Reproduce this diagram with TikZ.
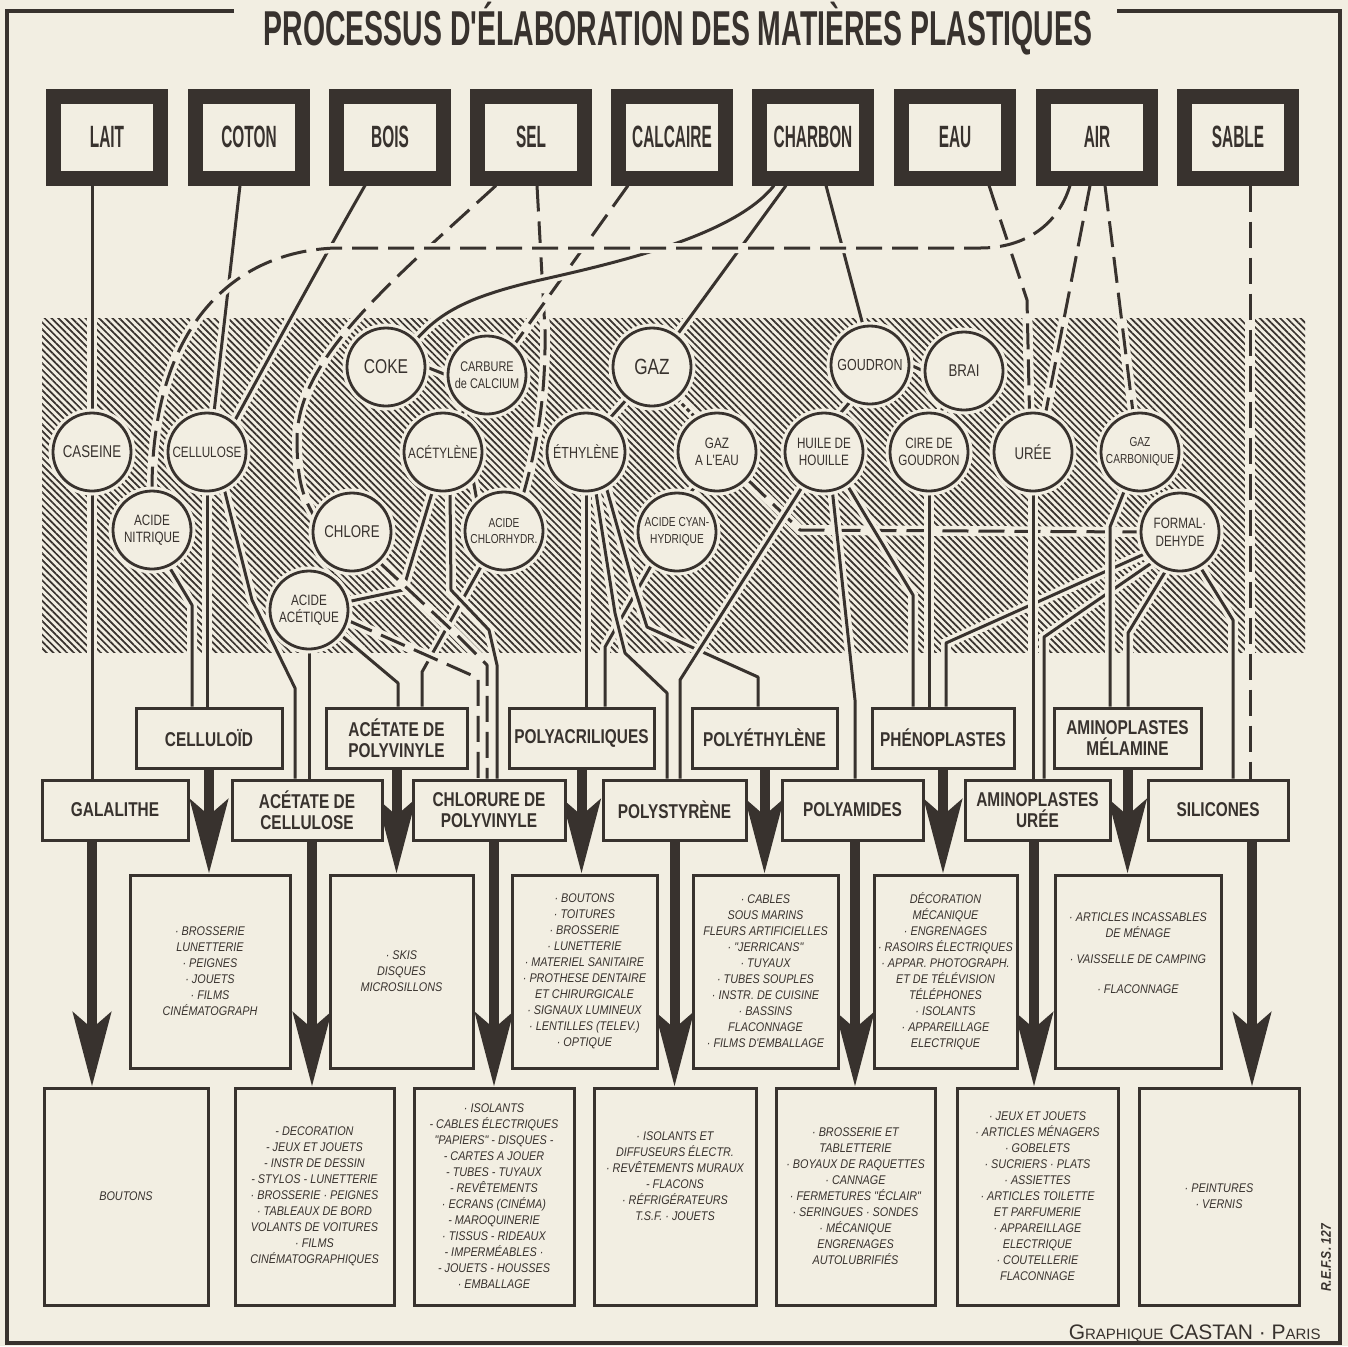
\documentclass[tikz,border=0pt]{standalone}
\usepackage{fontspec}
\usetikzlibrary{arrows.meta,patterns.meta}
\newfontfamily\titlefam[FakeStretch=0.58]{Liberation Sans}
\newfontfamily\srcfam[FakeStretch=0.5]{Liberation Sans}
\newfontfamily\circfam[FakeStretch=0.78]{Liberation Sans}
\newfontfamily\prodfam[FakeStretch=0.77]{Liberation Sans}
\newfontfamily\appfam[FakeStretch=0.86]{Liberation Sans}
\newfontfamily\creditfam{Liberation Sans}
\newcommand\circsz[2]{\circfam\fontsize{#1}{#2}\selectfont}
\definecolor{paper}{RGB}{242,238,226}
\definecolor{ink}{RGB}{56,50,46}
\pgfdeclarelayer{bg}
\pgfdeclarelayer{lines}
\pgfsetlayers{bg,lines,main}
\tikzset{
  src/.style={draw=ink, line width=7.5pt, fill=paper, minimum width=53.5pt, minimum height=41pt, inner sep=0pt, outer sep=3.75pt, text=ink, font={\srcfam\bfseries\fontsize{15.4}{16}\selectfont}},
  circ/.style={circle, draw=ink, line width=1.4pt, fill=paper, minimum size=39pt, inner sep=0pt, align=center, text=ink, font={\circsz{7.5}{8.8}}, preaction={draw=paper, line width=4.5pt}},
  prod/.style={rectangle, draw=ink, line width=1.5pt, fill=paper, minimum height=30pt, inner sep=0pt, align=center, text=ink, font={\prodfam\bfseries\fontsize{10}{10.5}\selectfont}},
  app/.style={rectangle, draw=ink, line width=1.5pt, fill=paper, inner sep=0pt, align=center, text=ink, font={\appfam\itshape\fontsize{6.3}{8}\selectfont}},
  mid/.style={app, minimum height=96.5pt},
  low/.style={app, minimum height=108.5pt},
  conn/.style={draw=ink, line width=1.5pt, line join=round, preaction={draw=paper, line width=5pt, solid}},
  dconn/.style={conn, dash pattern=on 13pt off 5pt},
  dotconn/.style={conn, dash pattern=on 2pt off 1.5pt},
  bigarrow/.style={draw=ink, line width=5pt, -{Stealth[length=37pt, width=19pt, inset=8pt]}},
  frame/.style={draw=ink, line width=2pt},
}
\begin{document}
\begin{tikzpicture}[x=0.5pt,y=-0.5pt]
\useasboundingbox (0,0) rectangle (1348,1346);
\begin{pgfonlayer}{bg}
\fill[paper] (0,0) rectangle (1348,1346);
\fill[pattern={Lines[angle=-45,distance=2.4pt,line width=0.85pt]}, pattern color=ink] (42,318) rectangle (1305,652);
\end{pgfonlayer}

% frame and title
\draw[frame] (234,11) -- (7,11) -- (7,1343) -- (1340,1343) -- (1340,11) -- (1117,11);
\node[anchor=base, inner sep=0pt, text=ink, font={\titlefam\bfseries\fontsize{24.5}{26}\selectfont}] (title) at (678,45) {PROCESSUS D'ÉLABORATION DES MATIÈRES PLASTIQUES};

% sources
\node[src] (lait) at (107,137) {LAIT};
\node[src] (coton) at (249,137) {COTON};
\node[src] (bois) at (390,137) {BOIS};
\node[src] (sel) at (531,137) {SEL};
\node[src] (calc) at (672,137) {CALCAIRE};
\node[src] (charb) at (813,137) {CHARBON};
\node[src] (eau) at (955,137) {EAU};
\node[src] (air) at (1097,137) {AIR};
\node[src] (sable) at (1238,137) {SABLE};

\coordinate (laitout) at ([xshift=-7.5pt]lait.south);
\coordinate (cotonout) at ([xshift=-4.5pt]coton.south);
\coordinate (boisout) at ([xshift=-12.5pt]bois.south);
\coordinate (selout1) at ([xshift=-17.5pt]sel.south);
\coordinate (selout2) at ([xshift=3pt]sel.south);
\coordinate (calcout) at ([xshift=-22pt]calc.south);
\coordinate (charbout1) at ([xshift=-19.5pt]charb.south);
\coordinate (charbout2) at ([xshift=-13.5pt]charb.south);
\coordinate (charbout3) at ([xshift=6.5pt]charb.south);
\coordinate (eauout) at ([xshift=17pt]eau.south);
\coordinate (airout1) at ([xshift=-13.5pt]air.south);
\coordinate (airout2) at ([xshift=-3.5pt]air.south);
\coordinate (airout3) at ([xshift=4pt]air.south);
\coordinate (sableout) at ([xshift=6pt]sable.south);

% intermediates
\node[circ, font={\circsz{8.5}{9}}] (casein) at (92,452) {CASEINE};
\node[circ] (cellulose) at (207,452) {CELLULOSE};
\node[circ] (nitrique) at (152,530) {ACIDE\\NITRIQUE};
\node[circ, font={\circsz{10}{11}}] (coke) at (386,367) {COKE};
\node[circ, font={\circsz{7}{8.4}}] (carbure) at (487,375) {CARBURE\\de CALCIUM};
\node[circ] (acetylene) at (443,452) {ACÉTYLÈNE};
\node[circ, font={\circsz{8.5}{9}}] (chlore) at (352,532) {CHLORE};
\node[circ, font={\circsz{6.5}{8.4}}] (chlorhydr) at (504,531) {ACIDE\\CHLORHYDR.};
\node[circ] (acetique) at (309,610) {ACIDE\\ACÉTIQUE};
\node[circ, font={\circsz{11}{12}}] (gaz) at (652,367) {GAZ};
\node[circ, font={\circsz{8}{9}}] (ethylene) at (586,452) {ÉTHYLÈNE};
\node[circ] (gazeau) at (717,452) {GAZ\\A L'EAU};
\node[circ, font={\circsz{6.5}{8.4}}] (cyan) at (677,532) {ACIDE CYAN-\\HYDRIQUE};
\node[circ, font={\circsz{8}{9}}] (goudron) at (870,365) {GOUDRON};
\node[circ, font={\circsz{8.5}{9}}] (brai) at (964,371) {BRAI};
\node[circ] (huile) at (824,452) {HUILE DE\\HOUILLE};
\node[circ] (cire) at (929,452) {CIRE DE\\GOUDRON};
\node[circ, font={\circsz{8.5}{9}}] (uree) at (1033,452) {URÉE};
\node[circ, font={\circsz{6.5}{8.4}}] (gazcarb) at (1140,452) {GAZ\\CARBONIQUE};
\node[circ] (formal) at (1180,532) {FORMAL·\\DEHYDE};

% products row A
\node[prod, minimum width=73pt] (celluloid) at (209,738) {CELLULOÏD};
\node[prod, minimum width=70.5pt] (pvac) at (396.5,738) {ACÉTATE DE\\POLYVINYLE};
\node[prod, minimum width=72.5pt] (polyacr) at (581.5,738) {POLYACRILIQUES};
\node[prod, minimum width=72.5pt] (polyeth) at (764.5,738) {POLYÉTHYLÈNE};
\node[prod, minimum width=71pt] (pheno) at (943,738) {PHÉNOPLASTES};
\node[prod, minimum width=73.5pt] (melamine) at (1127.5,738) {AMINOPLASTES\\MÉLAMINE};
% products row B
\node[prod, minimum width=73pt] (galalithe) at (115,810) {GALALITHE};
\node[prod, minimum width=75pt] (acecell) at (307,810) {ACÉTATE DE\\CELLULOSE};
\node[prod, minimum width=76pt] (pvc) at (489,810) {CHLORURE DE\\POLYVINYLE};
\node[prod, minimum width=71.5pt] (polystyrene) at (674.5,810) {POLYSTYRÈNE};
\node[prod, minimum width=70.5pt] (polyamides) at (852.5,810) {POLYAMIDES};
\node[prod, minimum width=72.5pt] (amuree) at (1037.5,810) {AMINOPLASTES\\URÉE};
\node[prod, minimum width=70pt] (silicones) at (1218,810) {SILICONES};

% uses, middle row
\node[mid, minimum width=80pt] (m1) at (210,971.5) {· BROSSERIE\\LUNETTERIE\\· PEIGNES\\· JOUETS\\· FILMS\\CINÉMATOGRAPH};
\node[mid, minimum width=71.5pt] (m2) at (401.5,971.5) {· SKIS\\DISQUES\\MICROSILLONS};
\node[mid, minimum width=72.5pt] (m3) at (584.5,971.5) {· BOUTONS\\· TOITURES\\· BROSSERIE\\· LUNETTERIE\\· MATERIEL SANITAIRE\\· PROTHESE DENTAIRE\\ET CHIRURGICALE\\· SIGNAUX LUMINEUX\\· LENTILLES (TELEV.)\\· OPTIQUE};
\node[mid, minimum width=72.5pt] (m4) at (765.5,971.5) {· CABLES\\SOUS MARINS\\FLEURS ARTIFICIELLES\\· "JERRICANS"\\· TUYAUX\\· TUBES SOUPLES\\· INSTR. DE CUISINE\\· BASSINS\\FLACONNAGE\\· FILMS D'EMBALLAGE};
\node[mid, minimum width=71.5pt] (m5) at (945.5,971.5) {DÉCORATION\\MÉCANIQUE\\· ENGRENAGES\\· RASOIRS ÉLECTRIQUES\\· APPAR. PHOTOGRAPH.\\ET DE TÉLÉVISION\\TÉLÉPHONES\\· ISOLANTS\\· APPAREILLAGE\\ELECTRIQUE};
\node[mid, minimum width=83pt] (m6) at (1138,971.5) {· ARTICLES INCASSABLES\\DE MÉNAGE\\[5pt]· VAISSELLE DE CAMPING\\[7pt]· FLACONNAGE\\[10pt]};
% uses, bottom row
\node[low, minimum width=82pt] (b1) at (126,1196.5) {BOUTONS};
\node[low, minimum width=79.5pt] (b2) at (314.5,1196.5) {- DECORATION\\- JEUX ET JOUETS\\- INSTR DE DESSIN\\- STYLOS - LUNETTERIE\\· BROSSERIE · PEIGNES\\· TABLEAUX DE BORD\\VOLANTS DE VOITURES\\· FILMS\\CINÉMATOGRAPHIQUES};
\node[low, minimum width=80pt] (b3) at (494,1196.5) {· ISOLANTS\\- CABLES ÉLECTRIQUES\\"PAPIERS" - DISQUES -\\- CARTES A JOUER\\- TUBES - TUYAUX\\- REVÊTEMENTS\\· ECRANS (CINÉMA)\\- MAROQUINERIE\\· TISSUS - RIDEAUX\\- IMPERMÉABLES ·\\- JOUETS - HOUSSES\\· EMBALLAGE};
\node[low, minimum width=81pt] (b4) at (675,1196.5) {· ISOLANTS ET\\DIFFUSEURS ÉLECTR.\\· REVÊTEMENTS MURAUX\\- FLACONS\\· RÉFRIGÉRATEURS\\T.S.F. · JOUETS\\[12pt]};
\node[low, minimum width=79.5pt] (b5) at (855.5,1196.5) {· BROSSERIE ET\\TABLETTERIE\\· BOYAUX DE RAQUETTES\\· CANNAGE\\· FERMETURES "ÉCLAIR"\\· SERINGUES · SONDES\\· MÉCANIQUE\\ENGRENAGES\\AUTOLUBRIFIÉS};
\node[low, minimum width=80.5pt] (b6) at (1037.5,1196.5) {· JEUX ET JOUETS\\· ARTICLES MÉNAGERS\\· GOBELETS\\· SUCRIERS · PLATS\\· ASSIETTES\\· ARTICLES TOILETTE\\ET PARFUMERIE\\· APPAREILLAGE\\ELECTRIQUE\\· COUTELLERIE\\FLACONNAGE};
\node[low, minimum width=80pt] (b7) at (1219,1196.5) {· PEINTURES\\· VERNIS};

\node[rotate=90, inner sep=0pt, text=ink, font={\appfam\itshape\bfseries\fontsize{7}{8}\selectfont}] (refs) at (1326,1258) {R.E.F.S. 127};
\node[anchor=base east, inner sep=0pt, text=ink, font={\creditfam\fontsize{10.5}{11}\selectfont}] (credit) at (1321,1339) {G{\fontsize{7.5}{8}\selectfont RAPHIQUE} CASTAN · P{\fontsize{7.5}{8}\selectfont ARIS}};

\coordinate (galout) at ([xshift=-11.5pt]galalithe.south);
\coordinate (acecellout) at ([xshift=2.5pt]acecell.south);
\coordinate (pvcout) at ([xshift=2.5pt]pvc.south);
\coordinate (polyamout) at ([xshift=1.25pt]polyamides.south);
\coordinate (amureeout) at ([xshift=-1.75pt]amuree.south);
\coordinate (silout) at ([xshift=17pt]silicones.south);

\begin{pgfonlayer}{lines}
% from the raw materials
\draw[conn] (laitout) -- (casein.north);
\draw[conn] (casein.south) -- (casein.south |- galalithe.north);
\draw[conn] (cotonout) -- (cellulose.80);
\draw[conn] (boisout) .. controls (325,255) and (265,365) .. (cellulose.48);
\draw[dconn] (selout1) .. controls (386,286) and (297,360) .. (297,440) .. controls (297,485) and (305,500) .. (chlore.158);
\draw[dconn] (selout2) -- (545,330) .. controls (546,400) and (536,450) .. (chlorhydr.62);
\draw[dconn] (calcout) -- (carbure.48);
\draw[conn] (charbout1) .. controls (735,235) and (620,262) .. (540,280) .. controls (470,296) and (440,312) .. (coke.42);
\draw[conn] (charbout2) -- (gaz.52);
\draw[conn] (charbout3) -- (goudron.100);
\draw[dconn] (eauout) -- (1027,300) -- (uree.95);
\draw[dconn] (airout2) -- (uree.72);
\draw[dconn] (airout3) -- (gazcarb.100);
\draw[dconn] (airout1) .. controls (1058,225) and (1025,248) .. (980,248) -- (335,248) .. controls (230,252) and (152,330) .. (nitrique.north);
\draw[dconn] (sableout) -- (sableout |- silicones.north);
% between intermediates
\draw[conn] (coke.east) -- (carbure.west);
\draw[conn] (carbure.235) -- (acetylene.62);
\draw[conn] (gaz.232) -- (ethylene.55);
\draw[dotconn] (gaz.308) -- (gazeau.122);
\draw[conn] (goudron.east) -- (brai.west);
\draw[conn] (goudron.242) -- (huile.68);
\draw[conn] (brai.238) -- (cire.72);
\draw[conn] (acetylene.318) -- (chlorhydr.132);
\draw[conn] (acetylene.255) -- (403,590) -- (acetique.12);
\draw[conn] (gazeau.238) -- (cyan.72);
\draw[dconn] (gazeau.318) -- (800,530) -- (formal.west);
% to the plastics
\draw[conn] (nitrique.295) -- (192,605) -- (192,0 |- celluloid.north);
\draw[conn] (cellulose.south) -- (cellulose.south |- celluloid.north);
\draw[conn] (cellulose.295) -- (252,600) -- (295,688) -- (295,0 |- acecell.north);
\draw[conn] (acetique.south) -- (acetique.south |- acecell.north);
\draw[conn] (acetique.322) -- (398,683) -- (398,0 |- pvac.north);
\draw[conn] (chlorhydr.237) -- (422,672) -- (422,0 |- pvac.north);
\draw[dconn] (acetique.345) -- (478,678) -- (478,0 |- pvc.north);
\draw[dconn] (chlore.312) -- (455,633) -- (487,665) -- (487,0 |- pvc.north);
\draw[conn] (acetylene.280) -- (451,590) -- (489,630) -- (497,665) -- (497,0 |- pvc.north);
\draw[conn] (ethylene.south) -- (ethylene.south |- polyacr.north);
\draw[conn] (cyan.232) -- (605,647) -- (605,0 |- polyacr.north);
\draw[conn] (ethylene.284) -- (615,613) -- (625,653) -- (667,693) -- (667,0 |- polystyrene.north);
\draw[conn] (ethylene.300) -- (633,583) -- (647,627) -- (758,677) -- (758,0 |- polyeth.north);
\draw[conn] (huile.238) -- (680,680) -- (680,0 |- polystyrene.north);
\draw[conn] (huile.282) -- (855,700) -- (855,0 |- polyamides.north);
\draw[conn] (huile.305) -- (913,595) -- (913,0 |- pheno.north);
\draw[conn] (cire.south) -- (cire.south |- pheno.north);
\draw[conn] (formal.212) -- (946,643) -- (946,0 |- pheno.north);
\draw[conn] (uree.south) -- (uree.south |- amuree.north);
\draw[conn] (formal.228) -- (1044,637) -- (1044,0 |- amuree.north);
\draw[conn] (gazcarb.248) -- (1110,527) -- (1110,0 |- melamine.north);
\draw[conn] (formal.250) -- (1128,633) -- (1128,0 |- melamine.north);
\draw[conn] (formal.300) -- (1233,620) -- (1233,0 |- silicones.north);
% thick arrows to the uses
\draw[bigarrow] (celluloid.south) -- (celluloid.south |- m1.north);
\draw[bigarrow] (pvac.south) -- (pvac.south |- m2.north);
\draw[bigarrow] (polyacr.south) -- (polyacr.south |- m3.north);
\draw[bigarrow] (polyeth.south) -- (polyeth.south |- m4.north);
\draw[bigarrow] (pheno.south) -- (pheno.south |- m5.north);
\draw[bigarrow] (melamine.south) -- (melamine.south |- m6.north);
\draw[bigarrow] (galout) -- (galout |- b1.north);
\draw[bigarrow] (acecellout) -- (acecellout |- b2.north);
\draw[bigarrow] (pvcout) -- (pvcout |- b3.north);
\draw[bigarrow] (polystyrene.south) -- (polystyrene.south |- b4.north);
\draw[bigarrow] (polyamout) -- (polyamout |- b5.north);
\draw[bigarrow] (amureeout) -- (amureeout |- b6.north);
\draw[bigarrow] (silout) -- (silout |- b7.north);
\end{pgfonlayer}
\end{tikzpicture}
\end{document}
